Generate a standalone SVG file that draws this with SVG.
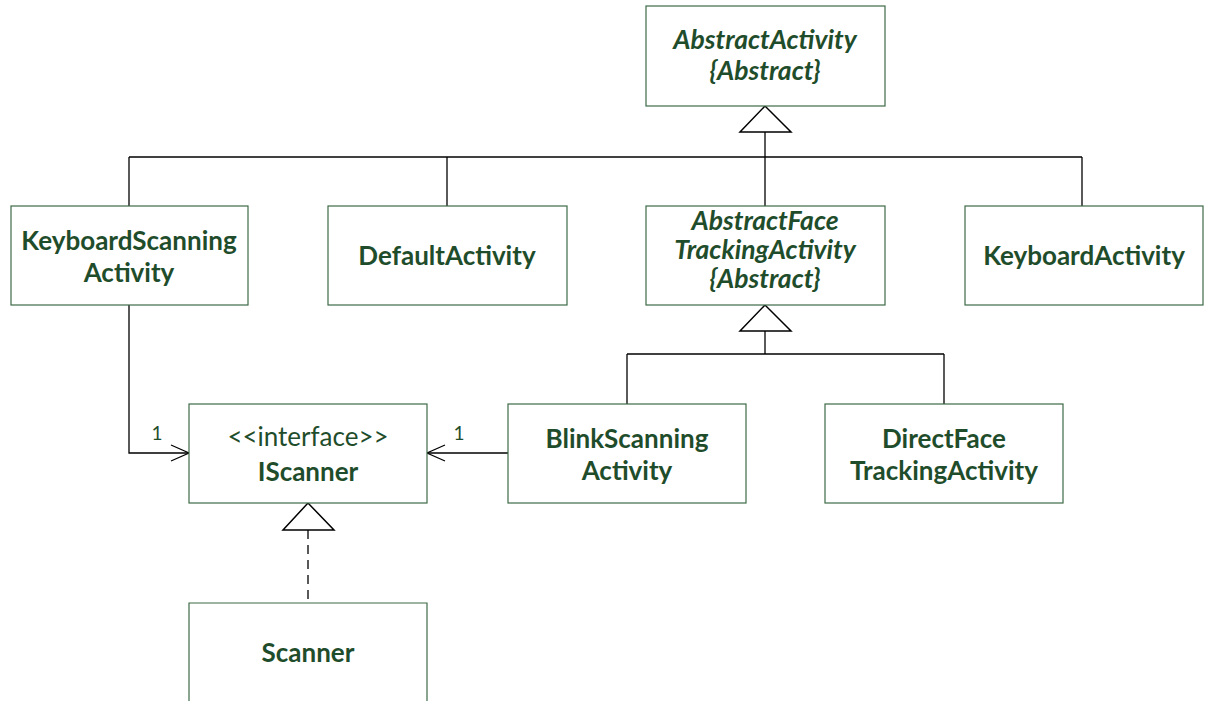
<svg xmlns="http://www.w3.org/2000/svg" width="1205" height="701" viewBox="0 0 1205 701">
  <style>
    .box { fill: #ffffff; stroke: #3d6b46; stroke-width: 1.2; }
    .t { font-family: Lato, "Liberation Sans", sans-serif; font-size: 26px; font-weight: bold; fill: #1f4d2b; text-anchor: middle; }
    .ti { font-style: italic; font-size: 26.5px; }
    .tr { font-weight: normal; }
    .m { font-family: Lato, "Liberation Sans", sans-serif; font-size: 19px; fill: #1f4d2b; text-anchor: middle; }
    .ln { fill: none; stroke: #000000; stroke-width: 1.3; }
    .dash { stroke-dasharray: 9 6; }
    .tri { fill: #ffffff; stroke: #000000; stroke-width: 1.5; }
  </style>
  <defs>
    <marker id="open" viewBox="0 0 20 20" refX="19" refY="10" markerWidth="20" markerHeight="20" markerUnits="userSpaceOnUse" orient="auto">
      <path d="M1 2 L19 10 L1 18" fill="none" stroke="#000" stroke-width="1.2"/>
    </marker>
  </defs>
  <rect width="1205" height="701" fill="#ffffff"/>

  <g id="connectors">
    <!-- generalization tree under AbstractActivity -->
    <line class="ln" x1="765" y1="132" x2="765" y2="157"/>
    <line class="ln" x1="129" y1="157" x2="1082" y2="157"/>
    <line class="ln" x1="129" y1="157" x2="129" y2="206"/>
    <line class="ln" x1="447" y1="157" x2="447" y2="206"/>
    <line class="ln" x1="765" y1="157" x2="765" y2="206"/>
    <line class="ln" x1="1082" y1="157" x2="1082" y2="206"/>
    <polygon class="tri" points="765,106 740,132 791,132"/>
    <!-- generalization tree under AbstractFaceTrackingActivity -->
    <line class="ln" x1="765" y1="331" x2="765" y2="354"/>
    <line class="ln" x1="627" y1="354" x2="944" y2="354"/>
    <line class="ln" x1="627" y1="354" x2="627" y2="404"/>
    <line class="ln" x1="944" y1="354" x2="944" y2="404"/>
    <polygon class="tri" points="765,305 740,331 791,331"/>
    <!-- associations to IScanner -->
    <polyline class="ln" points="129,305 129,453 189,453" marker-end="url(#open)"/>
    <text class="m" x="157" y="440">1</text>
    <line class="ln" x1="508" y1="453" x2="427" y2="453" marker-end="url(#open)"/>
    <text class="m" x="459" y="440">1</text>
    <!-- realization -->
    <line class="ln dash" x1="308" y1="530" x2="308" y2="603"/>
    <polygon class="tri" points="308,503 283,530 334,530"/>
  </g>

  <g id="abstract-activity">
    <rect class="box" x="646" y="6" width="239" height="100"/>
    <text class="t ti" x="765" y="49">AbstractActivity</text>
    <text class="t ti" x="765" y="80">{Abstract}</text>
  </g>
  <g id="keyboard-scanning-activity">
    <rect class="box" x="11" y="206" width="237" height="99"/>
    <text class="t" x="129" y="250">KeyboardScanning</text>
    <text class="t" x="129" y="282">Activity</text>
  </g>
  <g id="default-activity">
    <rect class="box" x="328" y="206" width="239" height="99"/>
    <text class="t" x="447" y="265">DefaultActivity</text>
  </g>
  <g id="abstract-face-tracking-activity">
    <rect class="box" x="646" y="206" width="239" height="99"/>
    <text class="t ti" x="765" y="230">AbstractFace</text>
    <text class="t ti" x="765" y="259">TrackingActivity</text>
    <text class="t ti" x="765" y="288">{Abstract}</text>
  </g>
  <g id="keyboard-activity">
    <rect class="box" x="965" y="206" width="238" height="99"/>
    <text class="t" x="1084" y="265">KeyboardActivity</text>
  </g>
  <g id="iscanner">
    <rect class="box" x="189" y="404" width="238" height="99"/>
    <text class="t tr" x="308" y="446">&lt;&lt;interface&gt;&gt;</text>
    <text class="t" x="308" y="481">IScanner</text>
  </g>
  <g id="blink-scanning-activity">
    <rect class="box" x="508" y="404" width="238" height="99"/>
    <text class="t" x="627" y="448">BlinkScanning</text>
    <text class="t" x="627" y="480">Activity</text>
  </g>
  <g id="direct-face-tracking-activity">
    <rect class="box" x="825" y="404" width="238" height="99"/>
    <text class="t" x="944" y="448">DirectFace</text>
    <text class="t" x="944" y="480">TrackingActivity</text>
  </g>
  <g id="scanner">
    <path class="box" d="M189 702 V603 H427 V702"/>
    <text class="t" x="308" y="662">Scanner</text>
  </g>
</svg>
